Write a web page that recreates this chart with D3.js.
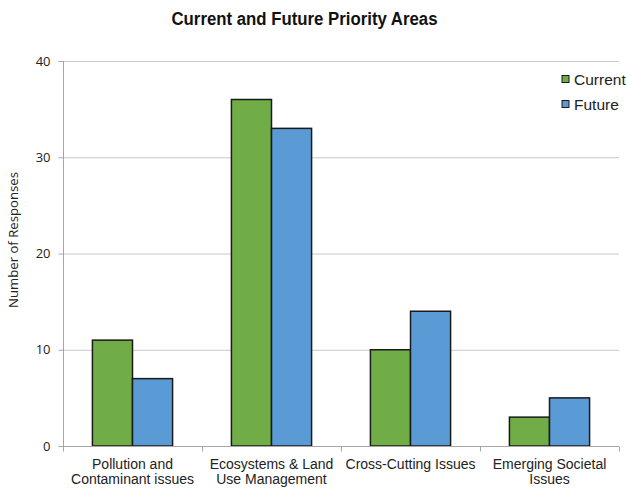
<!DOCTYPE html>
<html>
<head>
<meta charset="utf-8">
<script src="https://cdn.jsdelivr.net/npm/d3@7"></script>
<style>
  html, body { margin: 0; padding: 0; background: #fff; }
  svg { display: block; font-family: "Liberation Sans", Arial, sans-serif; }
</style>
</head>
<body>
<svg id="chart" width="627" height="489"></svg>
<script>
// Priority areas and survey response counts
const categories = [
  ["Pollution and", "Contaminant issues"],
  ["Ecosystems & Land", "Use Management"],
  ["Cross-Cutting Issues"],
  ["Emerging Societal", "Issues"]
];
const seriesNames = ["Current", "Future"];
const currentValues = [11, 36, 10, 3];
const futureValues = [7, 33, 14, 5];
const yTicks = [0, 10, 20, 30, 40];
const colors = ["#70AD47", "#5B9BD5"];

const svg = d3.select("#chart");
const margin = { left: 63, right: 8, top: 61, bottom: 43 };
const W = 627, H = 489;
const plotW = W - margin.left - margin.right;
const plotH = H - margin.top - margin.bottom;

const keys = categories.map((c, i) => i);
const x0 = d3.scaleBand().domain(keys).range([0, plotW]).paddingInner(0).paddingOuter(0);
const x1 = d3.scaleBand().domain(seriesNames).range([0, x0.bandwidth()]).paddingInner(0).paddingOuter(0.734);
const y = d3.scaleLinear().domain([0, 40]).range([plotH, 0]);

const g = svg.append("g").attr("transform", `translate(${margin.left},${margin.top})`);

// horizontal gridlines
g.append("g").selectAll("line").data(yTicks.filter(t => t > 0)).join("line")
  .attr("x1", 0).attr("x2", plotW)
  .attr("y1", d => y(d) + 0.5).attr("y2", d => y(d) + 0.5)
  .attr("stroke", "#c8c8c8").attr("stroke-width", 1);

// y axis
const yAxis = g.append("g").attr("transform", "translate(0.5,0)")
  .call(d3.axisLeft(y).tickValues(yTicks).tickSize(5).tickPadding(8).tickFormat(d3.format("d")));
yAxis.selectAll("path, line").attr("stroke", "#a6a6a6");
yAxis.select(".domain").attr("d", `M0,${y(40)}V${y(0)}`);
yAxis.selectAll("text").attr("font-size", 13).attr("fill", "#222")
  .attr("font-family", "'Open Sans', sans-serif");

// bars
const data = keys.map(i => ({ i, vals: [currentValues[i], futureValues[i]] }));
const groups = g.append("g").selectAll("g").data(data).join("g")
  .attr("transform", d => `translate(${x0(d.i)},0)`);
groups.selectAll("rect").data(d => d.vals.map((v, k) => ({ v, k }))).join("rect")
  .attr("x", d => x1(seriesNames[d.k]))
  .attr("y", d => y(d.v))
  .attr("width", x1.bandwidth())
  .attr("height", d => y(0) - y(d.v))
  .attr("fill", d => colors[d.k])
  .attr("stroke", "#1a1a1a")
  .attr("stroke-width", 1.5);

// x axis with category boundary ticks
const xa = g.append("g").attr("transform", `translate(0,${plotH + 0.5})`);
xa.append("line").attr("x1", 0).attr("x2", plotW).attr("stroke", "#a6a6a6");
const bounds = keys.map(i => x0(i)).concat([plotW]);
xa.selectAll("line.tick").data(bounds).join("line").attr("class", "tick")
  .attr("x1", d => Math.round(d) + 0.5).attr("x2", d => Math.round(d) + 0.5)
  .attr("y1", 0).attr("y2", 5).attr("stroke", "#a6a6a6");

// category labels
const labels = xa.selectAll("text.cat").data(data).join("text").attr("class", "cat")
  .attr("x", d => x0(d.i) + x0.bandwidth() / 2)
  .attr("y", 22)
  .attr("text-anchor", "middle")
  .attr("font-size", 14)
  .attr("fill", "#222");
labels.selectAll("tspan").data(d => categories[d.i]).join("tspan")
  .attr("x", function () { return d3.select(this.parentNode).attr("x"); })
  .attr("dy", (d, k) => k === 0 ? 0 : 15.5)
  .text(d => d);

// title
svg.append("text")
  .attr("x", 304.5).attr("y", 25)
  .attr("text-anchor", "middle")
  .attr("font-size", 17.5).attr("font-weight", "bold")
  .attr("textLength", 266).attr("lengthAdjust", "spacingAndGlyphs")
  .attr("fill", "#111")
  .text("Current and Future Priority Areas");

// y axis title
svg.append("text")
  .attr("transform", `translate(18,240) rotate(-90)`)
  .attr("text-anchor", "middle")
  .attr("font-family", "'Open Sans', sans-serif")
  .attr("font-size", 13)
  .attr("textLength", 136).attr("lengthAdjust", "spacingAndGlyphs")
  .attr("fill", "#222")
  .text("Number of Responses");

// legend
const legend = svg.append("g").attr("transform", "translate(562,75.5)");
const li = legend.selectAll("g").data(seriesNames).join("g")
  .attr("transform", (d, k) => `translate(0,${k * 25})`);
li.append("rect").attr("width", 7).attr("height", 7)
  .attr("fill", (d, k) => colors[k]).attr("stroke", "#1a1a1a").attr("stroke-width", 1);
li.append("text").attr("x", 12).attr("y", 9.5)
  .attr("font-size", 15.5).attr("fill", "#222").text(d => d);
</script>
</body>
</html>
